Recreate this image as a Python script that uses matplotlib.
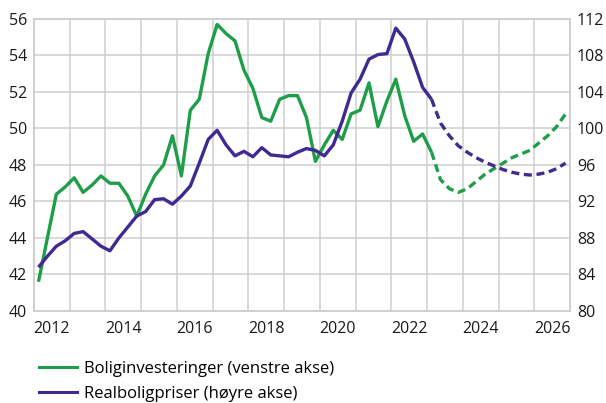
import numpy as np
import pandas as pd
import matplotlib
matplotlib.use('Agg')
import matplotlib.pyplot as plt
from matplotlib.lines import Line2D

plt.rcParams['font.family'] = ['Open Sans', 'DejaVu Sans']

# kvartaler 2012K1 - 2026K4
kvartal = pd.period_range('2012Q1', '2026Q4', freq='Q')
siste_faktiske = pd.Period('2023Q1', freq='Q')

# boliginvesteringer (venstre akse)
boliginv = [41.6, 44.0, 46.4, 46.8, 47.3, 46.5, 46.9, 47.4, 47.0, 47.0,
            46.3, 45.2, 46.4, 47.4, 48.0, 49.6, 47.4, 51.0, 51.6, 54.1,
            55.7, 55.2, 54.8, 53.2, 52.2, 50.6, 50.4, 51.6, 51.8, 51.8,
            50.6, 48.2, 49.1, 49.9, 49.4, 50.8, 51.0, 52.5, 50.1, 51.5,
            52.7, 50.7, 49.3, 49.7, 48.7, 47.2, 46.7, 46.5, 46.7, 47.1,
            47.5, 47.8, 48.1, 48.4, 48.6, 48.8, 49.2, 49.6, 50.1, 50.8]

# realboligpriser (høyre akse)
realpris = [84.8, 86.0, 87.1, 87.7, 88.5, 88.7, 87.9, 87.1, 86.6, 88.0,
            89.2, 90.4, 90.9, 92.2, 92.3, 91.7, 92.6, 93.7, 96.2, 98.8,
            99.8, 98.2, 97.0, 97.5, 96.9, 97.9, 97.1, 97.0, 96.9, 97.4,
            97.8, 97.6, 97.0, 98.2, 100.8, 103.9, 105.4, 107.6, 108.1, 108.2,
            111.0, 109.8, 107.3, 104.5, 103.2, 100.6, 99.2, 98.1, 97.4, 96.8,
            96.3, 95.9, 95.5, 95.2, 95.0, 94.9, 95.0, 95.2, 95.6, 96.2]

aar_labels = ['2012', '2014', '2016', '2018', '2020', '2022', '2024', '2026']

gronn = '#1f9e4a'
lilla = '#40298f'
grid_farge = '#cfcfcf'

x = np.arange(len(kvartal))
n = list(kvartal).index(siste_faktiske)

fig = plt.figure(figsize=(6.06, 4.03), dpi=100)
ax = fig.add_axes([0.0561, 0.2283, 0.8845, 0.7246])
ax2 = ax.twinx()

ax.plot(x[:n + 1], boliginv[:n + 1], color=gronn, lw=2.4, solid_capstyle='butt')
ax.plot(x[n:], boliginv[n:], color=gronn, lw=2.4, linestyle=(0, (2.4, 1.4)))
ax2.plot(x[:n + 1], realpris[:n + 1], color=lilla, lw=2.4, solid_capstyle='butt')
ax2.plot(x[n:], realpris[n:], color=lilla, lw=2.4, linestyle=(0, (2.4, 1.4)))

ax.set_xlim(-0.5, len(kvartal) - 0.5)
ax.set_ylim(40, 56)
ax2.set_ylim(80, 112)
ax.set_yticks(np.arange(40, 57, 2))
ax2.set_yticks(np.arange(80, 113, 4))

# årsgrenser som rutenett, årstall midt i året
ax.set_xticks(np.arange(-0.5, len(kvartal), 4))
ax.set_xticklabels([])
ax.set_xticks(np.arange(1.5, len(kvartal), 8), minor=True)
ax.set_xticklabels(aar_labels, minor=True)

ax.grid(True, which='major', color=grid_farge, lw=1.1)
ax.set_axisbelow(True)
for a in (ax, ax2):
    for s in a.spines.values():
        s.set_color(grid_farge)
        s.set_linewidth(1.1)
    a.tick_params(which='both', length=0, labelsize=11.5, colors='#1a1a1a')
ax.tick_params(axis='x', which='minor', pad=7)
ax.tick_params(axis='y', pad=5)
ax2.tick_params(axis='y', pad=5)

handles = [Line2D([], [], color=gronn, lw=2.2),
           Line2D([], [], color=lilla, lw=2.2)]
fig.legend(handles, ['Boliginvesteringer (venstre akse)', 'Realboligpriser (høyre akse)'],
           loc='upper left', bbox_to_anchor=(0.053, 0.122), frameon=False,
           fontsize=12, handlelength=2.3, handletextpad=0.4, labelspacing=0.55,
           borderaxespad=0)

fig.savefig('out.png', dpi=100)
